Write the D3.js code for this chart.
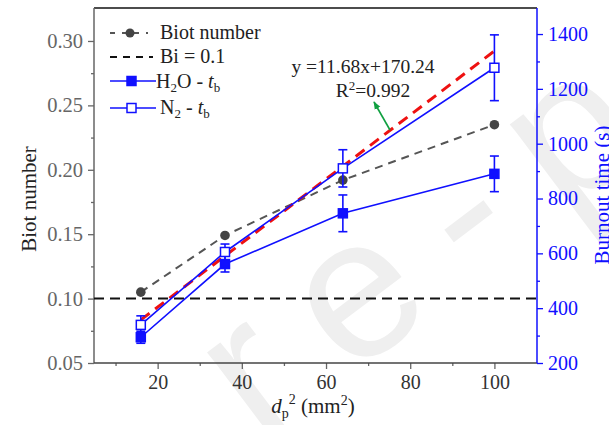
<!DOCTYPE html>
<html>
<head>
<meta charset="utf-8">
<script src="https://cdn.jsdelivr.net/npm/d3@7"></script>
<style>
  html, body { margin: 0; padding: 0; background: #fff; }
  svg { display: block; }
  text { font-family: "Liberation Serif", "Times New Roman", serif; }
</style>
</head>
<body>
<svg id="chart" width="609" height="425"></svg>
<script>
// Particle size squared (mm^2)
const dp2 = [16, 36, 64, 100];
// Biot number for each particle size
const biot = [0.105, 0.149, 0.192, 0.235];
// Burnout time (s) in H2O and N2, with error bar half-widths
const h2oTime = [294, 561, 746, 890];
const h2oErr = [22, 29, 67, 65];
const n2Time = [339, 605, 910, 1277];
const n2Err = [33, 29, 68, 120];
// Critical Biot number
const biCritical = 0.1;
// Linear fit of N2 burnout time
const fitSlope = 11.68, fitIntercept = 170.24, fitR2 = 0.992;
// Axis ticks
const xTicks = [20, 40, 60, 80, 100];
const xMinor = [10, 30, 50, 70, 90];
const yLeftTicks = [0.05, 0.10, 0.15, 0.20, 0.25, 0.30];
const yLeftMinor = [0.075, 0.125, 0.175, 0.225, 0.275];
const yRightTicks = [200, 400, 600, 800, 1000, 1200, 1400];
const yRightMinor = [300, 500, 700, 900, 1100, 1300];

const svg = d3.select("#chart");
const L = 94, R = 537, T = 8, B = 363;
const blue = "#1010ff";
const axisGray = "#666";

const x = d3.scaleLinear().domain([5, 110]).range([L + 0.5, R - 0.5]);
const yL = d3.scaleLinear().domain([0.05, 0.3256]).range([B, T]);
const yR = d3.scaleLinear().domain([200, 1495]).range([B, T]);

// Faint diagonal watermark behind the plot
svg.append("text")
  .attr("transform", "translate(260,445) rotate(-37)")
  .attr("font-size", 200)
  .attr("letter-spacing", 45)
  .style("font-family", "'Liberation Sans', Arial, sans-serif")
  .attr("fill", "#efefef")
  .text("re-pro");

// Axes
function styleAxis(g, color, fs) {
  g.selectAll("path.domain").remove();
  g.selectAll(".tick line").attr("stroke", color).attr("stroke-width", 1.3);
  g.selectAll(".tick text").attr("fill", color).attr("font-size", fs);
}

const gx = svg.append("g").attr("transform", `translate(0,${B})`)
  .call(d3.axisBottom(x).tickValues(xTicks).tickSize(6).tickPadding(6).tickFormat(d3.format("d")));
styleAxis(gx, axisGray, 20);
gx.selectAll(".tick text").attr("fill", "#333");
const gxm = svg.append("g").attr("transform", `translate(0,${B})`)
  .call(d3.axisBottom(x).tickValues(xMinor).tickSize(3).tickFormat(""));
styleAxis(gxm, axisGray, 0);

const gyl = svg.append("g").attr("transform", `translate(${L},0)`)
  .call(d3.axisLeft(yL).tickValues(yLeftTicks).tickSize(6).tickPadding(5).tickFormat(d3.format(".2f")));
styleAxis(gyl, axisGray, 20.5);
const gylm = svg.append("g").attr("transform", `translate(${L},0)`)
  .call(d3.axisLeft(yL).tickValues(yLeftMinor).tickSize(3).tickFormat(""));
styleAxis(gylm, axisGray, 0);

const gyr = svg.append("g").attr("transform", `translate(${R},0)`)
  .call(d3.axisRight(yR).tickValues(yRightTicks).tickSize(6).tickPadding(5).tickFormat(d3.format("d")));
styleAxis(gyr, blue, 20);
const gyrm = svg.append("g").attr("transform", `translate(${R},0)`)
  .call(d3.axisRight(yR).tickValues(yRightMinor).tickSize(3).tickFormat(""));
styleAxis(gyrm, blue, 0);

// Frame
svg.append("line").attr("x1", L).attr("x2", R).attr("y1", T).attr("y2", T)
  .attr("stroke", "#111").attr("stroke-width", 1.5);
svg.append("line").attr("x1", L).attr("x2", L).attr("y1", T).attr("y2", B)
  .attr("stroke", axisGray).attr("stroke-width", 1.5);
svg.append("line").attr("x1", L).attr("x2", R).attr("y1", B).attr("y2", B)
  .attr("stroke", "#444").attr("stroke-width", 1.5);
svg.append("line").attr("x1", R).attr("x2", R).attr("y1", T).attr("y2", B)
  .attr("stroke", blue).attr("stroke-width", 1.5);

// Bi = 0.1 reference
svg.append("line").attr("x1", L).attr("x2", R)
  .attr("y1", yL(biCritical)).attr("y2", yL(biCritical))
  .attr("stroke", "#111").attr("stroke-width", 2).attr("stroke-dasharray", "10,6");

// Biot number series
const biotPts = dp2.map((d, i) => [x(d), yL(biot[i])]);
svg.append("path").attr("d", d3.line()(biotPts))
  .attr("fill", "none").attr("stroke", "#555").attr("stroke-width", 2)
  .attr("stroke-dasharray", "8,6");
svg.selectAll("circle.biot").data(biotPts).join("circle").attr("class", "biot")
  .attr("cx", d => d[0]).attr("cy", d => d[1]).attr("r", 4.8).attr("fill", "#444");

// Fit line
const fitX = [dp2[0], dp2[dp2.length - 1]];
svg.append("path")
  .attr("d", d3.line()(fitX.map(v => [x(v), yR(fitSlope * v + fitIntercept)])))
  .attr("fill", "none").attr("stroke", "#ee1111").attr("stroke-width", 3)
  .attr("stroke-dasharray", "11,7");

// Burnout time series
function drawSeries(vals, errs, filled) {
  const pts = dp2.map((d, i) => [x(d), yR(vals[i])]);
  svg.append("path").attr("d", d3.line()(pts))
    .attr("fill", "none").attr("stroke", blue).attr("stroke-width", 1.6);
  dp2.forEach((d, i) => {
    const cx = x(d), y1 = yR(vals[i] - errs[i]), y2 = yR(vals[i] + errs[i]);
    const g = svg.append("g").attr("stroke", blue).attr("stroke-width", 1.6);
    g.append("line").attr("x1", cx).attr("x2", cx).attr("y1", y1).attr("y2", y2);
    g.append("line").attr("x1", cx - 4.5).attr("x2", cx + 4.5).attr("y1", y1).attr("y2", y1);
    g.append("line").attr("x1", cx - 4.5).attr("x2", cx + 4.5).attr("y1", y2).attr("y2", y2);
  });
  svg.selectAll(null).data(pts).join("rect")
    .attr("x", d => d[0] - 4.5).attr("y", d => d[1] - 4.5)
    .attr("width", 9).attr("height", 9)
    .attr("fill", filled ? blue : "#fff").attr("stroke", blue).attr("stroke-width", 1.5);
}
drawSeries(h2oTime, h2oErr, true);
drawSeries(n2Time, n2Err, false);

// Fit annotation
svg.append("text").attr("x", 363).attr("y", 73).attr("text-anchor", "middle")
  .attr("font-size", 19.5).attr("fill", "#222")
  .text(`y =${fitSlope}x+${fitIntercept}`);
const r2 = svg.append("text").attr("x", 373).attr("y", 97).attr("text-anchor", "middle")
  .attr("font-size", 19.5).attr("fill", "#222");
r2.append("tspan").text("R");
r2.append("tspan").attr("font-size", 13).attr("dy", -7).text("2");
r2.append("tspan").attr("dy", 7).text("=" + fitR2);

// Green arrow
const defs = svg.append("defs");
defs.append("marker").attr("id", "arrowG").attr("viewBox", "0 0 10 10")
  .attr("refX", 9).attr("refY", 5).attr("markerWidth", 5).attr("markerHeight", 5)
  .attr("orient", "auto")
  .append("path").attr("d", "M0,1 L10,5 L0,9 Z").attr("fill", "#10a040");
svg.append("line").attr("x1", 390).attr("y1", 130).attr("x2", 374).attr("y2", 102)
  .attr("stroke", "#10a040").attr("stroke-width", 1.6).attr("marker-end", "url(#arrowG)");

// Legend
const lg = svg.append("g");
const fsL = 20;
// Biot number
lg.append("line").attr("x1", 110).attr("x2", 148).attr("y1", 33).attr("y2", 33)
  .attr("stroke", "#555").attr("stroke-width", 2).attr("stroke-dasharray", "5,7");
lg.append("circle").attr("cx", 130).attr("cy", 33).attr("r", 4.5).attr("fill", "#444");
lg.append("text").attr("x", 160).attr("y", 39).attr("font-size", fsL).attr("fill", "#222")
  .text("Biot number");
// Bi = 0.1
lg.append("line").attr("x1", 110).attr("x2", 153).attr("y1", 57).attr("y2", 57)
  .attr("stroke", "#111").attr("stroke-width", 2).attr("stroke-dasharray", "7,6");
lg.append("text").attr("x", 160).attr("y", 63).attr("font-size", fsL).attr("fill", "#222")
  .text("Bi = 0.1");
// H2O
lg.append("line").attr("x1", 110).attr("x2", 156).attr("y1", 81).attr("y2", 81)
  .attr("stroke", blue).attr("stroke-width", 1.6);
lg.append("rect").attr("x", 127).attr("y", 76.5).attr("width", 9).attr("height", 9)
  .attr("fill", blue).attr("stroke", blue).attr("stroke-width", 1.5);
const t3 = lg.append("text").attr("x", 156).attr("y", 88).attr("font-size", fsL).attr("fill", "#222");
t3.append("tspan").text("H");
t3.append("tspan").attr("font-size", 13).attr("dy", 4).text("2");
t3.append("tspan").attr("dy", -4).text("O - ");
t3.append("tspan").attr("font-style", "italic").text("t");
t3.append("tspan").attr("font-size", 13).attr("dy", 4).text("b");
// N2
lg.append("line").attr("x1", 110).attr("x2", 156).attr("y1", 108).attr("y2", 108)
  .attr("stroke", blue).attr("stroke-width", 1.6);
lg.append("rect").attr("x", 127).attr("y", 103.5).attr("width", 9).attr("height", 9)
  .attr("fill", "#fff").attr("stroke", blue).attr("stroke-width", 1.5);
const t4 = lg.append("text").attr("x", 160).attr("y", 114).attr("font-size", fsL).attr("fill", "#222");
t4.append("tspan").text("N");
t4.append("tspan").attr("font-size", 13).attr("dy", 4).text("2");
t4.append("tspan").attr("dy", -4).text(" - ");
t4.append("tspan").attr("font-style", "italic").text("t");
t4.append("tspan").attr("font-size", 13).attr("dy", 4).text("b");

// Axis titles
svg.append("text").attr("transform", "translate(36,199) rotate(-90)")
  .attr("text-anchor", "middle").attr("font-size", 21).attr("fill", "#222")
  .text("Biot number");
svg.append("text").attr("transform", "translate(609,195) rotate(-90)")
  .attr("text-anchor", "middle").attr("font-size", 21).attr("fill", blue)
  .text("Burnout time (s)");
const xt = svg.append("text").attr("x", 313).attr("y", 413).attr("text-anchor", "middle")
  .attr("font-size", 21).attr("fill", "#222");
xt.append("tspan").attr("font-style", "italic").text("d");
xt.append("tspan").attr("font-size", 14).attr("dy", 5).text("p");
xt.append("tspan").attr("font-size", 14).attr("dy", -14).text("2");
xt.append("tspan").attr("dy", 9).text(" (mm");
xt.append("tspan").attr("font-size", 14).attr("dy", -8).text("2");
xt.append("tspan").attr("dy", 8).text(")");
</script>
</body>
</html>
